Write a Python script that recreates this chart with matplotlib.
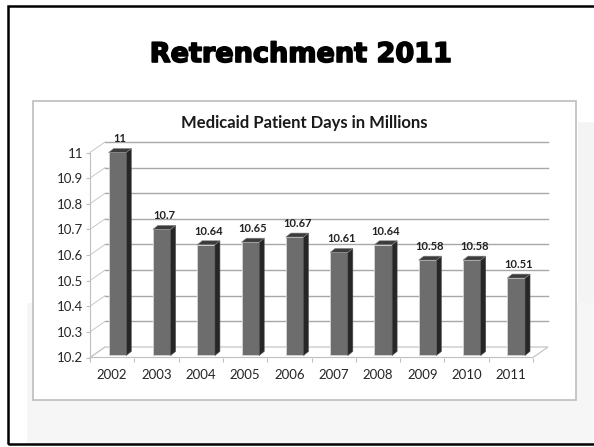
import numpy as np
import matplotlib.pyplot as plt
import matplotlib.patheffects as pe
from matplotlib.patches import Rectangle, Polygon

years = ['2002', '2003', '2004', '2005', '2006', '2007', '2008', '2009', '2010', '2011']
days = [11.0, 10.7, 10.64, 10.65, 10.67, 10.61, 10.64, 10.58, 10.58, 10.51]
day_labels = ['11', '10.7', '10.64', '10.65', '10.67', '10.61', '10.64', '10.58', '10.58', '10.51']
y_ticks = [10.2, 10.3, 10.4, 10.5, 10.6, 10.7, 10.8, 10.9, 11.0]
y_tick_labels = ['10.2', '10.3', '10.4', '10.5', '10.6', '10.7', '10.8', '10.9', '11']

W, H = 594, 447
fig = plt.figure(figsize=(W / 100, H / 100), dpi=100)
fig.patch.set_facecolor('white')


def fx(px):
    return px / W


def fy(py):
    return 1 - py / H


def fig_rect(x0, y0, x1, y1, **kw):
    # pixel box (top-left origin) -> figure patch
    r = Rectangle((fx(x0), fy(y1)), fx(x1) - fx(x0), fy(y0) - fy(y1),
                  transform=fig.transFigure, **kw)
    fig.patches.append(r)
    return r


# slide background bits
fig_rect(578, 122, 600, 444, facecolor='#f4f4f4', edgecolor='none', zorder=-10)
fig_rect(27, 303, 600, 444, facecolor='#f6f6f6', edgecolor='none', zorder=-10)
# chart area box
fig_rect(33, 101, 576, 400, facecolor='white', edgecolor='#bdbdbd', linewidth=1.2, zorder=-5)
# slide border (right side runs off the picture)
fig_rect(8, 6, 620, 444, facecolor='none', edgecolor='black', linewidth=1.8, zorder=5)

fig.text(fx(301), fy(62), 'Retrenchment 2011', ha='center', va='baseline',
         fontsize=19.5, weight='bold', family='DejaVu Sans', color='black',
         path_effects=[pe.withStroke(linewidth=1.2, foreground='black')])
fig.text(fx(304.5), fy(128), 'Medicaid Patient Days in Millions', ha='center', va='baseline',
         fontsize=12, weight='bold', family='Lato', color='#1a1a1a')

ax = fig.add_axes([fx(90), fy(357.5), (533 - 90) / W, (357.5 - 152.5) / H])
ax.set_xlim(-0.5, 9.5)
ax.set_ylim(10.2, 11.0)
ax.patch.set_visible(False)
for s in ['top', 'right', 'bottom']:
    ax.spines[s].set_visible(False)
ax.spines['left'].set_color('#bfbfbf')
ax.spines['left'].set_linewidth(0.8)

# 3d depth of the walls, in data units
DX, DY = 0.34, 0.041
grid_c = '#a8a8a8'

floor = Polygon([(-0.5, 10.2), (9.5, 10.2), (9.5 + DX, 10.2 + DY), (-0.5 + DX, 10.2 + DY)],
                closed=True, facecolor='white', edgecolor='#bfbfbf', linewidth=0.8,
                clip_on=False, zorder=1)
ax.add_patch(floor)
for t in y_ticks[1:]:
    ax.plot([-0.5 + DX, 9.5 + DX], [t + DY, t + DY], color=grid_c, lw=1.0,
            clip_on=False, zorder=1)
for t in y_ticks:
    ax.plot([-0.5, -0.5 + DX], [t, t + DY], color='#c8c8c8', lw=0.7,
            clip_on=False, zorder=1)

x = np.arange(len(years))
# bars sit a bit back from the front edge
bdx, bdy = 0.113, 0.0156
bars = ax.bar(x + 0.12, np.array(days) - 10.208, width=0.4, bottom=10.208,
              color='#6d6d6d', edgecolor='#d0d0d0', linewidth=0.7, zorder=3,
              clip_on=False)
for rect, lbl in zip(bars, day_labels):
    x0 = rect.get_x()
    x1 = x0 + rect.get_width()
    b = rect.get_y()
    top = b + rect.get_height()
    ax.add_patch(Polygon([(x1, b), (x1, top), (x1 + bdx, top + bdy), (x1 + bdx, b + bdy)],
                         closed=True, facecolor='#262626', edgecolor='#555555',
                         linewidth=0.4, zorder=3, clip_on=False))
    ax.add_patch(Polygon([(x0, top), (x1, top), (x1 + bdx, top + bdy), (x0 + bdx, top + bdy)],
                         closed=True, facecolor='#3c3c3c', edgecolor='#888888',
                         linewidth=0.4, zorder=3, clip_on=False))
    ax.annotate(lbl, ((x0 + x1) / 2 + bdx / 2, top + bdy), xytext=(0, 3),
                textcoords='offset points', ha='center', va='bottom',
                fontsize=8, weight='bold', family='Lato', color='#222222',
                annotation_clip=False)

ax.set_yticks(y_ticks)
ax.set_yticklabels(y_tick_labels)
ax.tick_params(axis='y', length=3, color='#bfbfbf', width=0.8, pad=2,
               labelsize=9.5, labelcolor='#262626')
ax.set_xticks(x)
ax.set_xticklabels(years)
ax.set_xticks(np.arange(-0.5, 10, 1.0), minor=True)
ax.tick_params(axis='x', which='major', length=0, pad=8, labelsize=9.5, labelcolor='#262626')
ax.tick_params(axis='x', which='minor', length=3, color='#bfbfbf', width=0.8)
for lab in ax.get_xticklabels() + ax.get_yticklabels():
    lab.set_family('Lato')

fig.savefig('out.png', dpi=100)
